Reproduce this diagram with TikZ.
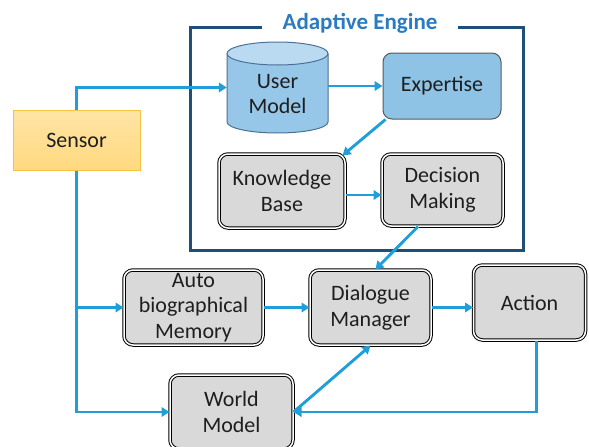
\documentclass[tikz,border=0pt]{standalone}
\usepackage{fontspec}
\setmainfont{Carlito}
\usetikzlibrary{arrows.meta,calc}
\definecolor{wire}{HTML}{1F9ED9}
\definecolor{frameblue}{HTML}{1F4E79}
\definecolor{titleblue}{HTML}{2A7BC0}
\definecolor{boxgray}{HTML}{D9D9D9}
\definecolor{lightblue}{HTML}{8EC3E6}
\definecolor{cylblue}{HTML}{96C7E8}
\definecolor{cyltop}{HTML}{B9DAF0}
\definecolor{sensorfill}{HTML}{FFD97F}
\definecolor{sensorline}{HTML}{F5C242}
\definecolor{ink}{HTML}{1E1E1E}
\begin{document}
\begin{tikzpicture}[x=1pt,y=-1pt,
  every node/.style={font=\fontsize{22}{25.5}\selectfont, text=ink, align=center},
  dbox/.style={draw=black, line width=1pt, double=white, double distance=1.5pt,
    fill=boxgray, rounded corners=9pt, inner sep=0pt},
  arr/.style={draw=wire, line width=2.9pt, -{Triangle[length=8pt,width=9.5pt]}}]
\useasboundingbox (0,0) rectangle (589,447);

% adaptive engine frame with its title
\draw[frameblue, line width=3pt] (190,27) rectangle (523,250);
\node[fill=white, minimum width=196pt, minimum height=20pt, inner sep=0pt,
      font=\fontsize{23}{25}\selectfont\bfseries, text=titleblue] (title) at (360,23) {Adaptive Engine};

% user model cylinder
\node[minimum width=101pt, minimum height=91pt, inner sep=0pt] (um) at (277.5,87.5) {};
\fill[cylblue] (227,53.5) -- (227,122) arc[start angle=180, end angle=0, x radius=50.5, y radius=11] -- (328,53.5) -- cycle;
\draw[frameblue!80, line width=1pt] (227,53.5) -- (227,122) arc[start angle=180, end angle=0, x radius=50.5, y radius=11] -- (328,53.5);
\draw[frameblue!80, line width=1pt, fill=cyltop] (277.5,53.5) ellipse[x radius=50.5, y radius=11.5];
\node at (277.5,94) {User\\Model};

% other boxes
\node[draw=gray!70!black, line width=1pt, fill=lightblue, rounded corners=9pt,
      minimum width=118pt, minimum height=66pt] (exp) at (442,86) {Expertise};
\node[dbox, minimum width=126pt, minimum height=74pt] (kb) at (282,191) {Knowledge\\Base};
\node[dbox, minimum width=121pt, minimum height=72pt] (dec) at (442.5,190) {Decision\\Making};
\node[draw=sensorline, line width=1pt, top color=sensorfill!70!white, bottom color=sensorfill,
      minimum width=127pt, minimum height=60pt, inner sep=0pt] (sensor) at (76.5,140) {Sensor};
\node[dbox, minimum width=139pt, minimum height=75pt] (abm) at (193.5,307.5) {Auto\\biographical\\Memory};
\node[dbox, minimum width=121pt, minimum height=75pt] (dlg) at (370.5,307.5) {Dialogue\\Manager};
\node[dbox, minimum width=112pt, minimum height=75pt] (act) at (529.5,302.5) {Action};
\node[dbox, minimum width=123pt, minimum height=74pt] (wm) at (231.5,412) {World\\Model};

% connectors
\draw[arr] (sensor.north) |- (um.west);
\draw[arr] (sensor.south) |- (abm.west);
\draw[arr] (sensor.south) |- (wm.west);
\draw[arr] (um.east |- exp.west) -- (exp.west);
\draw[arr] ([xshift=3pt]exp.south west) -- ([xshift=-3pt,yshift=-2pt]kb.north east);
\draw[arr] (kb.east |- 0,195) -- (dec.west |- 0,195);
\draw[arr] ($(dec.south west)!0.3!(dec.south east)$) -- ($(dlg.north west)!0.54!(dlg.north east)$);
\draw[arr] (abm.east) -- (dlg.west);
\draw[arr] (dlg.east) -- (dlg.east -| act.west);
\draw[arr] ([xshift=7pt]act.south) |- (wm.east);
\draw[arr] (wm.east) -- (dlg.south);
\end{tikzpicture}
\end{document}
